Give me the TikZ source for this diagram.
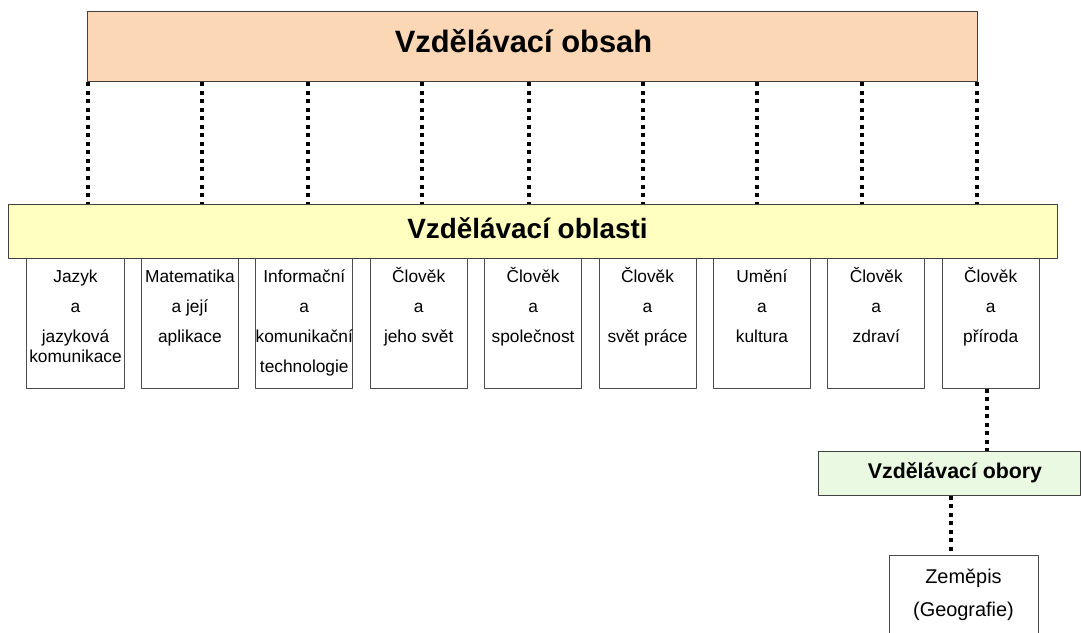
\documentclass[tikz,border=0pt]{standalone}
\usepackage{fontspec}
\setmainfont{Liberation Sans}
\definecolor{obsahfill}{RGB}{252,215,182}
\definecolor{oblastfill}{RGB}{255,255,192}
\definecolor{oborfill}{RGB}{234,250,226}
\tikzset{
  levelbox/.style={draw=black!75,inner sep=0pt},
  leveltext/.style={inner sep=0pt,font=\bfseries},
  areabox/.style={draw=black!70,inner sep=0pt,minimum width=97bp,minimum height=130bp},
  arealabel/.style={inner sep=0pt,align=center,anchor=north,font=\fontsize{17.4}{20}\selectfont},
  dotconn/.style={line width=4bp,dash pattern=on 4bp off 4.5bp},
}

\begin{document}
\begin{tikzpicture}[x=1bp,y=-1bp,line join=bevel]
  \pgfsetlinewidth{1bp}
  \useasboundingbox (0,0) rectangle (1081,633);
%%
  % Node: obsah
  \node[levelbox,fill=obsahfill,minimum width=889bp,minimum height=70bp] (obsah) at (532.5,47) {};
  \node[leveltext,font=\fontsize{31}{37}\selectfont\bfseries] (obsahlab)
    at ([xshift=-9bp,yshift=6bp]obsah.center) {Vzdělávací obsah};
  % Node: box1 .. box9
  \foreach \txt [count=\i] in {
      {Jazyk\\[10pt]a\\[10pt]jazyková\\komunikace},
      {Matematika\\[10pt]a její\\[10pt]aplikace},
      {Informační\\[10pt]a\\[10pt]komunikační\\[10pt]technologie},
      {Člověk\\[10pt]a\\[10pt]jeho svět},
      {Člověk\\[10pt]a\\[10pt]společnost},
      {Člověk\\[10pt]a\\[10pt]svět práce},
      {Umění\\[10pt]a\\[10pt]kultura},
      {Člověk\\[10pt]a\\[10pt]zdraví},
      {Člověk\\[10pt]a\\[10pt]příroda}} {
    \node[areabox] (box\i) at ({75.5+(\i-1)*114.4},323) {};
    \node[arealabel] (lab\i) at ([yshift=-8bp]box\i.north) {\rule{0pt}{17pt}\txt};
  }
  % Node: oblasti
  \node[levelbox,fill=oblastfill,minimum width=1048bp,minimum height=53bp] (oblasti) at (533,231.5) {};
  \node[leveltext,font=\fontsize{28}{34}\selectfont\bfseries] (oblastilab)
    at ([xshift=-5.5bp,yshift=3bp]oblasti.center) {Vzdělávací oblasti};
  % Node: obory
  \node[levelbox,fill=oborfill,minimum width=262bp,minimum height=44bp] (obory) at (949,473) {};
  \node[leveltext,font=\fontsize{21.4}{26}\selectfont\bfseries] (oborylab)
    at ([xshift=6bp]obory.center) {Vzdělávací obory};
  % Node: zemepis
  \node[draw=black!70,inner sep=0pt,minimum width=149bp,minimum height=95bp] (zemepis) at (963.5,602.5) {};
  \node[inner sep=0pt,align=center,anchor=north,font=\fontsize{20}{24}\selectfont]
    (zemlab) at ([yshift=-9bp]zemepis.north) {\rule{0pt}{20pt}Zeměpis\\[9pt](Geografie)};
  % Edge: obsah -> oblasti
  \foreach \x in {88,202,308,422,529,643,757,862,977}
    \draw[dotconn] (obsah.south -| \x,0) -- (oblasti.north -| \x,0);
  % Edge: box9 -> obory
  \draw[dotconn] (box9.south -| 987,0) -- (obory.north -| 987,0);
  % Edge: obory -> zemepis
  \draw[dotconn] (obory.south -| 951,0) -- (zemepis.north -| 951,0);
%
\end{tikzpicture}
\end{document}
